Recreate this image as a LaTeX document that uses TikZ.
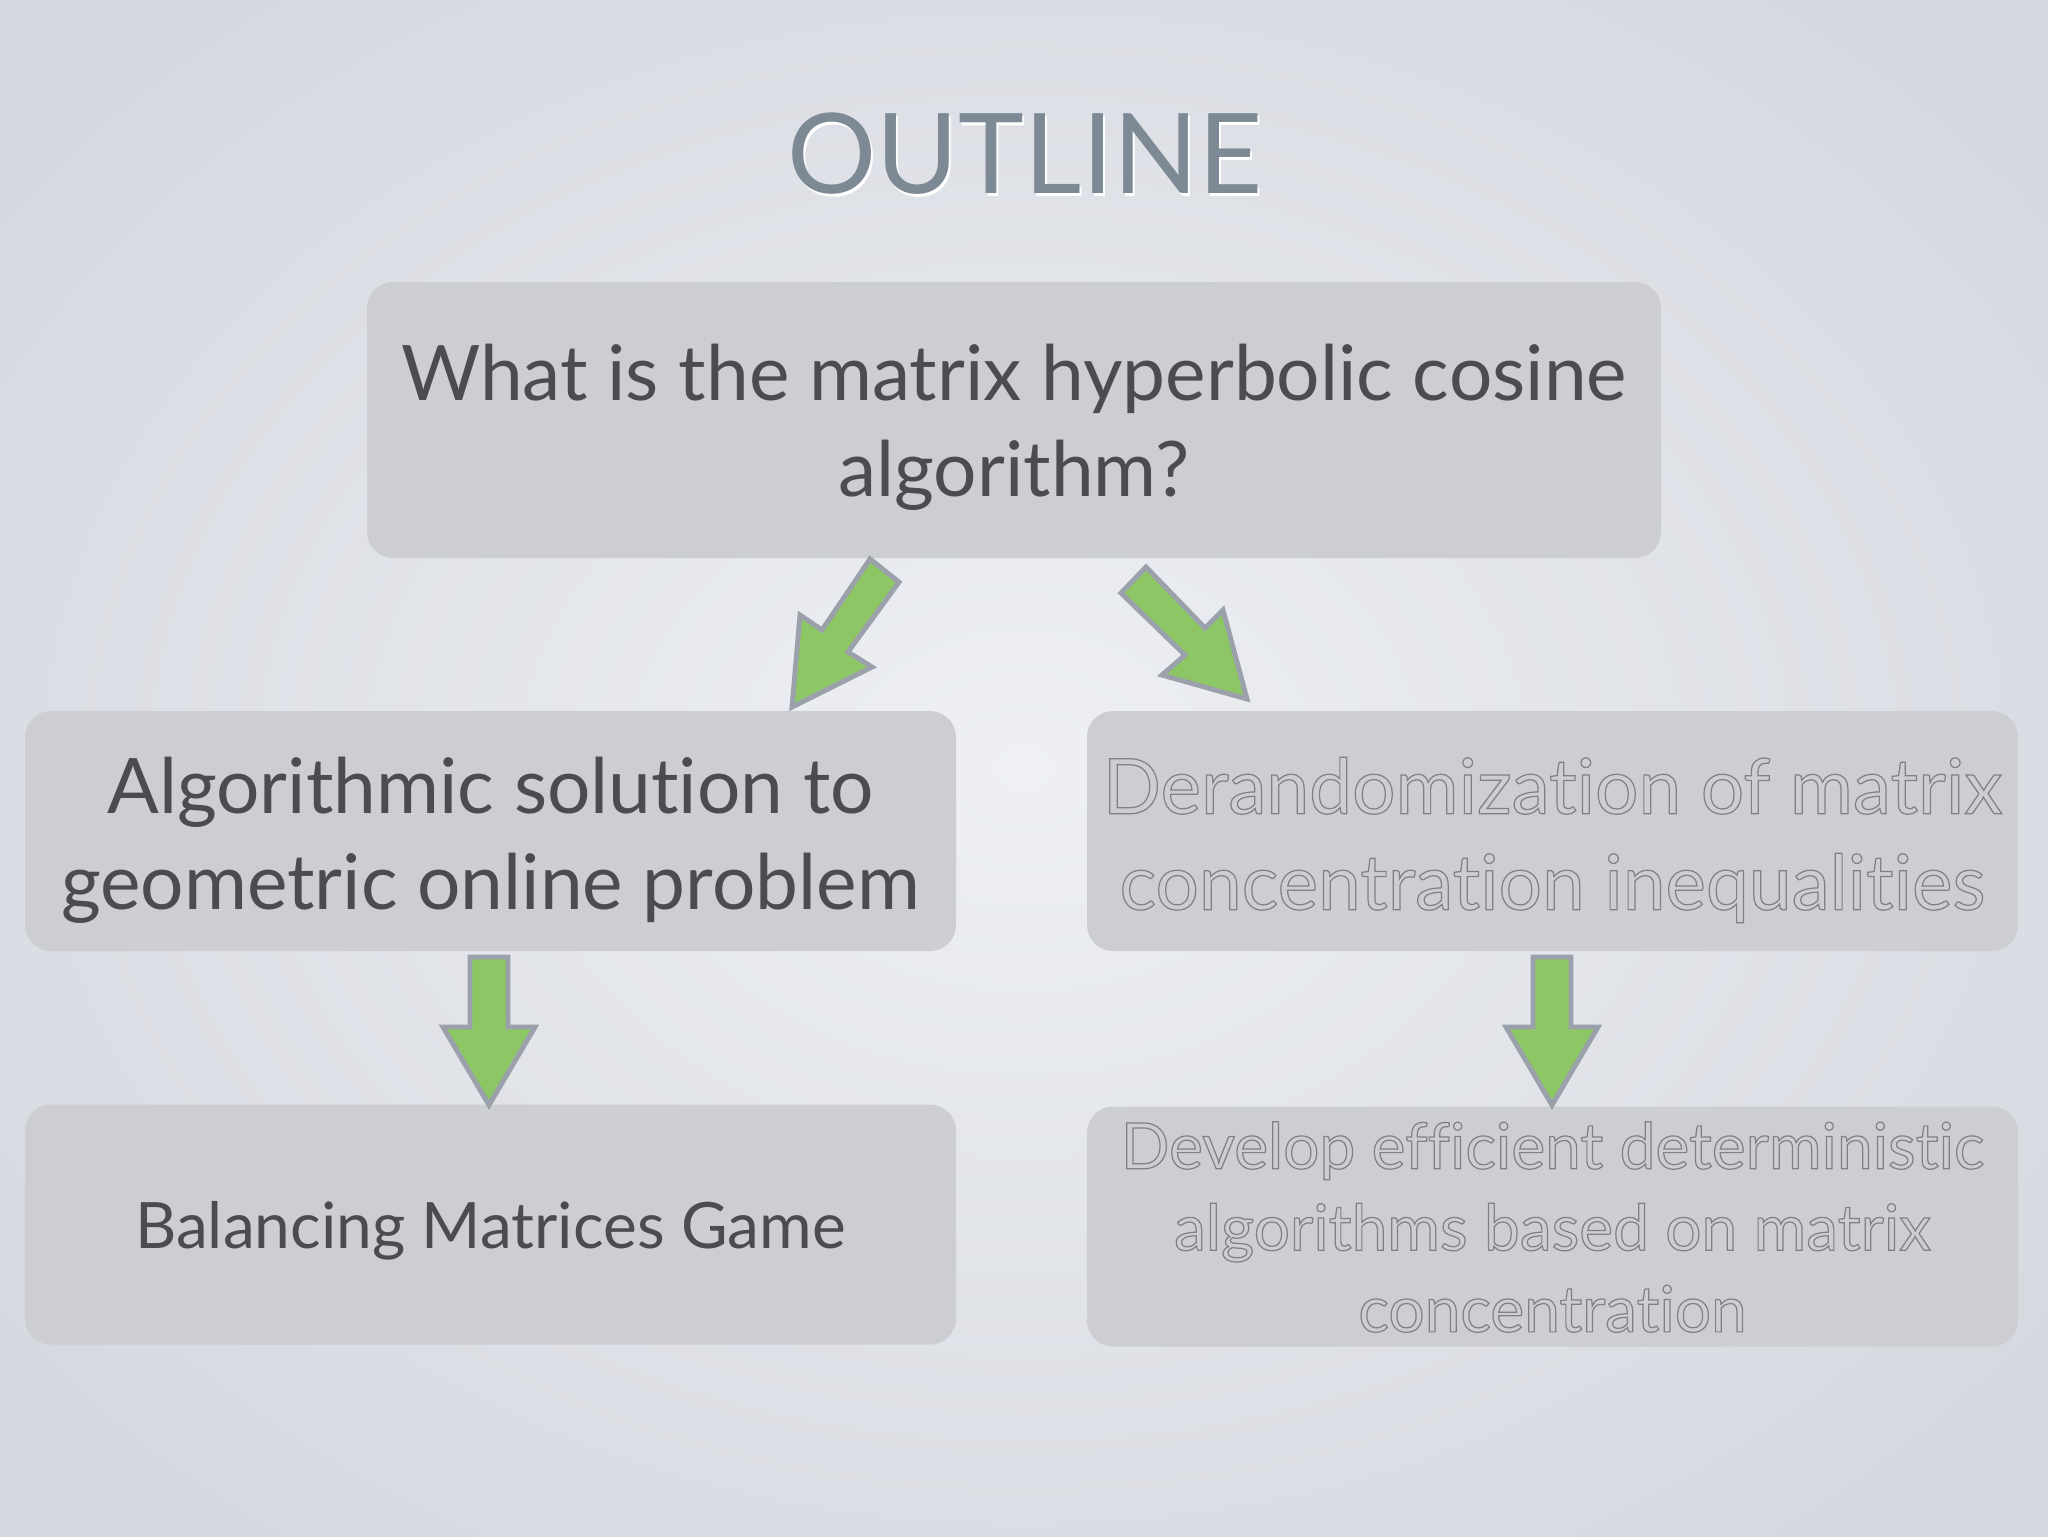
\documentclass[tikz,border=0pt]{standalone}
\usepackage{fontspec}
\setmainfont{Lato}[Ligatures=NoCommon]
\definecolor{bgin}{RGB}{238,240,244}
\definecolor{bgout}{RGB}{212,215,222}
\definecolor{boxfill}{RGB}{205,206,210}
\definecolor{txt}{RGB}{75,75,80}
\definecolor{ttl}{RGB}{125,137,149}
\definecolor{outl}{RGB}{128,128,134}
\definecolor{arrfill}{RGB}{141,198,101}
\definecolor{arrline}{RGB}{155,161,170}
\newcommand\outlinetext[1]{\special{pdf:literal direct 1 Tr 0.35 w}#1\special{pdf:literal direct 0 Tr}}
\tikzset{
  box/.style={draw=none, fill=boxfill, rounded corners=2.6mm, inner sep=0pt},
  bigbox/.style={box, minimum width=129.4mm, minimum height=27.6mm},
  smallbox/.style={box, minimum width=93.1mm, minimum height=24mm},
  label text/.style={align=center, inner sep=0pt},
  blockarrow/.style={fill=arrfill, draw=arrline, line width=1.4pt, line join=miter},
  maintext/.style={label text, text=txt, font=\fontsize{21.8}{27.3}\selectfont},
  ghosttext/.style={label text, text=outl, font=\fontsize{21.8}{27.3}\selectfont},
}
\begin{document}
\begin{tikzpicture}[x=0.1mm,y=-0.1mm]
\useasboundingbox (0,0) rectangle (2048,1536);
\shade[inner color=bgin, outer color=bgout] (-300,-250) rectangle (2348,1786);
% title
\node[text=white, font=\fontsize{31.7}{38}\selectfont] (titleshadow) at (1027,157) {OUTLINE};
\node[text=ttl, font=\fontsize{31.7}{38}\selectfont] (title) at (1025,154) {OUTLINE};
% boxes
\node[bigbox] (top) at (1014,420) {};
\node[smallbox] (lmid) at (490.5,831) {};
\node[smallbox] (rmid) at (1552.5,831) {};
\node[smallbox] (lbot) at (490.5,1224.5) {};
\node[smallbox] (rbot) at (1552.5,1226.5) {};
% texts
\node[maintext] (toptext) at (1014,427) {What is the matrix hyperbolic cosine\\algorithm?};
\node[maintext] (lmidtext) at (490.5,840) {Algorithmic solution to\\geometric online problem};
\node[ghosttext] (rmidtext) at (1552.5,840) {\outlinetext{Derandomization of matrix\\concentration inequalities}};
\node[label text, text=txt, font=\fontsize{18.2}{24}\selectfont] (lbottext) at (490.5,1231) {Balancing Matrices Game};
\node[label text, text=outl, font=\fontsize{18.2}{23.2}\selectfont] (rbottext) at (1552.5,1227) {\outlinetext{Develop efficient deterministic\\algorithms based on matrix\\concentration}};
% block arrows
\draw[blockarrow] (870,559) -- (822,630) -- (800,615) -- (792,707) -- (872,667) -- (848,652) -- (899,582) -- cycle;
\draw[blockarrow] (1146,567) -- (1205,628) -- (1223,610) -- (1247,699) -- (1162,675) -- (1185,655) -- (1121,593) -- cycle;
\draw[blockarrow] (470,957) -- (470,1027) -- (443,1027) -- (489,1105) -- (535,1027) -- (508,1027) -- (508,957) -- cycle;
\draw[blockarrow] (1533,957) -- (1533,1027) -- (1506,1027) -- (1552,1105) -- (1598,1027) -- (1571,1027) -- (1571,957) -- cycle;
\end{tikzpicture}
\end{document}
